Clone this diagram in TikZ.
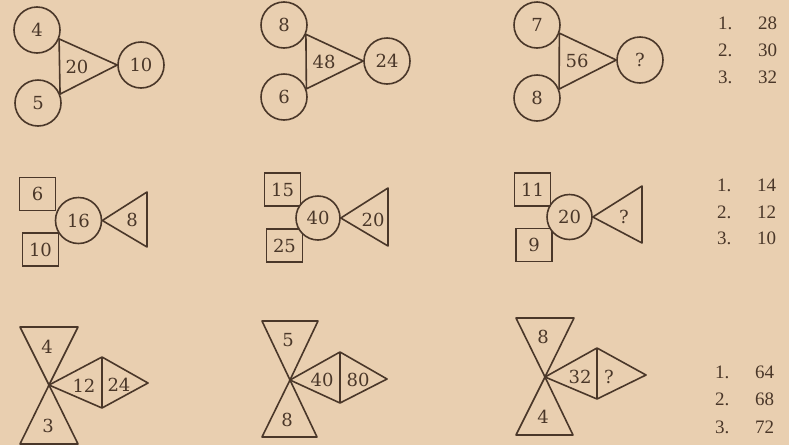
\documentclass[tikz,border=0pt]{standalone}
\usepackage{fontspec}
\usepackage{tikz}
\usetikzlibrary{positioning}
\setmainfont{DejaVu Serif}
\newfontfamily\ansfont{Liberation Serif}
\definecolor{cPen}{HTML}{4A3729}
\definecolor{cPage}{HTML}{E9CFB0}
\tikzset{
  rnd/.style={circle,draw=cPen,fill=cPage,line width=1.6pt,minimum size=46pt,inner sep=0pt,
              font=\fontsize{18}{20}\selectfont,text=cPen},
  sq/.style={rectangle,draw=cPen,line width=1.6pt,minimum width=36pt,minimum height=33pt,inner sep=0pt,
             font=\fontsize{18}{20}\selectfont,text=cPen},
  num/.style={font=\fontsize{18}{20}\selectfont,text=cPen,inner sep=0pt},
  ans/.style={font=\ansfont\fontsize{19}{20}\selectfont,text=cPen,anchor=west,inner sep=0pt},
  ln/.style={draw=cPen,line width=1.6pt,line join=round},
}
\begin{document}
\begin{tikzpicture}[x=1pt,y=-1pt]
\fill[cPage] (0,0) rectangle (789,445);
\useasboundingbox (0,0) rectangle (789,445);
% first row
\node[rnd] (c4)  at (37,30)   {4};
\node[rnd] (c5)  at (38,103)  {5};
\node[rnd] (c10) at (141,65)  {10};
\draw[ln] (c4.-22) -- (c5.22) -- (c10.west) -- cycle;
\node[num] (m20) at (77,67) {20};
\node[rnd] (c8)  at (284,25)  {8};
\node[rnd] (c6)  at (284,97)  {6};
\node[rnd] (c24) at (387,61)  {24};
\draw[ln] (c8.-23) -- (c6.20) -- (c24.west) -- cycle;
\node[num] (m48) at (324,62) {48};
\node[rnd] (c7)  at (537,25)  {7};
\node[rnd] (c8b) at (537,98)  {8};
\node[rnd] (cq)  at (640,60)  {?};
\draw[ln] (c7.-20) -- (c8b.22) -- (cq.west) -- cycle;
\node[num] (m56) at (577,61) {56};
% second row
\node[sq] (b6)  at (37.5,194)  {6};
\node[sq] (b10) at (40.5,249.5) {10};
\node[rnd] (c16) at (78.5,220.5) {16};
\coordinate (t1a) at (147,192);
\coordinate (t1b) at (147,247);
\draw[ln] (c16.east) -- (t1a) -- (t1b) -- cycle;
\node[num] (m8) at (132,220) {8};
\node[sq] (b15) at (282.5,189.5) {15};
\node[sq] (b25) at (284.5,245.5) {25};
\node[rnd,minimum size=44pt] (c40) at (318,218) {40};
\coordinate (t2a) at (388,188);
\coordinate (t2b) at (388,246);
\draw[ln] (c40.east) -- (t2a) -- (t2b) -- cycle;
\node[num] (m20b) at (373,220) {20};
\node[sq] (b11) at (532.5,189.5) {11};
\node[sq] (b9)  at (534,245)    {9};
\node[rnd,minimum size=45pt] (c20) at (569.5,217) {20};
\coordinate (t3a) at (642,186);
\coordinate (t3b) at (642,243);
\draw[ln] (c20.east) -- (t3a) -- (t3b) -- cycle;
\node[num] (mq) at (624,217) {?};
% third row
\coordinate (x1) at (49,385);
\draw[ln] (20,327) -- (78,327) -- (x1) -- cycle;
\draw[ln] (20,444) -- (78,444) -- (x1) -- cycle;
\draw[ln] (x1) -- (102,357) -- (148,383) -- (102,408) -- cycle;
\draw[ln] (102,357) -- (102,408);
\node[num] (u4)  at (47,347)  {4};
\node[num] (u3)  at (48,426)  {3};
\node[num] (u12) at (84,386)  {12};
\node[num] (u24) at (119,385) {24};
\coordinate (x2) at (290,380);
\draw[ln] (262,321) -- (318,321) -- (x2) -- cycle;
\draw[ln] (262,437) -- (317,437) -- (x2) -- cycle;
\draw[ln] (x2) -- (340,352) -- (387,379) -- (340,403) -- cycle;
\draw[ln] (340,352) -- (340,403);
\node[num] (u5)  at (288,340) {5};
\node[num] (u8)  at (287,420) {8};
\node[num] (u40) at (322,380) {40};
\node[num] (u80) at (358,380) {80};
\coordinate (x3) at (545,377);
\draw[ln] (516,318) -- (574,318) -- (x3) -- cycle;
\draw[ln] (516,435) -- (573,435) -- (x3) -- cycle;
\draw[ln] (x3) -- (597,348) -- (646,375) -- (597,399) -- cycle;
\draw[ln] (597,348) -- (597,399);
\node[num] (u8b) at (543,337) {8};
\node[num] (u4b) at (543,417) {4};
\node[num] (u32) at (580,377) {32};
\node[num] (uq)  at (609,377) {?};
% answers
\node[ans] (k11) at (718,23) {1.};
\node[ans] (k12) at (718,50) {2.};
\node[ans] (k13) at (718,77) {3.};
\node[ans] (v11) at (758,23) {28};
\node[ans] (v12) at (758,50) {30};
\node[ans] (v13) at (758,77) {32};
\node[ans] (k21) at (717,185) {1.};
\node[ans] (k22) at (717,212) {2.};
\node[ans] (k23) at (717,238) {3.};
\node[ans] (v21) at (757,185) {14};
\node[ans] (v22) at (757,212) {12};
\node[ans] (v23) at (757,238) {10};
\node[ans] (k31) at (715,372) {1.};
\node[ans] (k32) at (715,399) {2.};
\node[ans] (k33) at (715,427) {3.};
\node[ans] (v31) at (755,372) {64};
\node[ans] (v32) at (755,399) {68};
\node[ans] (v33) at (755,427) {72};
\end{tikzpicture}
\end{document}
